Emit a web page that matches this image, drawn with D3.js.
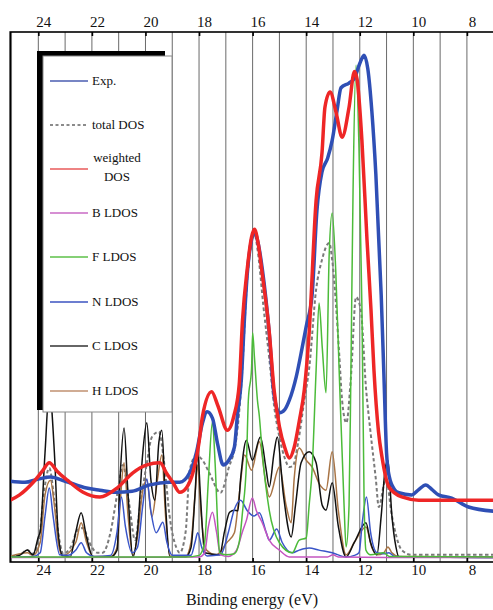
<!DOCTYPE html>
<html>
<head>
<meta charset="utf-8">
<script src="https://cdn.jsdelivr.net/npm/d3@7"></script>
<style>
body { margin: 0; background: #fff; }
svg text { font-family: "Liberation Serif", "DejaVu Serif", "Times New Roman", serif; fill: #111; }
</style>
</head>
<body>
<svg id="chart"></svg>
<script>
// binding energy (eV), intensity (arb. units, 0 = baseline)
let expData = [[25.05,14.6],[24.5,14.4],[24.0,15.0],[23.55,15.4],[23.0,14.6],[22.2,13.3],[21.7,12.9],[21.1,12.5],[20.5,12.7],[19.84,13.9],[19.1,14.4],[18.72,14.4],[18.35,16.2],[18.1,20],[17.87,25.7],[17.7,27.8],[17.5,26.6],[17.3,21.5],[17.1,17.7],[16.9,18.5],[16.68,21.1],[16.57,27],[16.42,34],[16.3,46],[16.2,54],[16.04,60.5],[15.93,62],[15.8,60],[15.64,55],[15.38,42.8],[15.2,31],[15.0,27.6],[14.8,28.2],[14.63,30],[14.37,34.5],[14.15,40],[14.0,44],[13.78,50],[13.6,66],[13.41,73.4],[13.2,76],[13.03,79.4],[12.85,85],[12.7,89.4],[12.4,90.3],[12.2,91.2],[12.0,94],[11.84,95.6],[11.7,93],[11.55,85],[11.4,73],[11.2,50],[11.1,35],[11.0,20],[10.9,15.5],[10.7,13],[10.54,12.4],[10.06,12.0],[9.8,13],[9.54,13.9],[9.3,13],[9.06,12.0],[8.57,11.4],[7.94,9.7],[7.0,8.9]]

let weightedData = [[25.05,11.0],[24.7,12.0],[24.19,14.4],[23.85,16.5],[23.59,18.1],[23.3,16.5],[22.92,14.8],[22.33,12.5],[21.7,11.6],[21.06,13.3],[20.47,16.2],[19.95,17.7],[19.46,18.1],[19.2,16],[18.98,14.4],[18.72,12.5],[18.45,13.5],[18.24,16],[18.0,22],[17.87,27],[17.53,31.6],[17.3,29],[16.94,24.3],[16.7,27],[16.5,33],[16.38,45],[16.2,55],[16.04,61],[15.93,62.5],[15.8,60],[15.64,54],[15.38,43],[15.2,32],[15.0,25],[14.8,21],[14.63,19],[14.45,21],[14.26,26],[14.07,32],[13.89,42.8],[13.63,68],[13.41,77],[13.3,85.7],[13.11,88.6],[12.88,84.6],[12.66,80],[12.4,85.7],[12.2,92.5],[12.1,91],[11.92,79.4],[11.73,60.5],[11.58,47.1],[11.47,35.7],[11.3,24],[11.17,19.2],[10.91,13.5],[10.43,11.6],[9.8,11.0],[7.0,11.0]]

let totalData = [[25.05,0.4],[24.7,0.6],[24.41,1.5],[24.2,0.8],[23.96,4],[23.8,12],[23.59,17.1],[23.4,11],[23.2,3],[23.07,0.8],[22.8,2],[22.5,5.5],[22.33,5.7],[22.1,3],[21.8,1],[21.6,1],[21.3,5],[21.06,12],[20.84,17.7],[20.6,10],[20.39,3.4],[20.2,10],[19.95,18],[19.76,23],[19.5,24],[19.3,18],[19.1,8],[18.85,2],[18.72,1],[18.5,5],[18.35,16.7],[18.1,19.5],[17.87,18.6],[17.6,16],[17.2,12.4],[16.9,17],[16.6,23],[16.42,33],[16.2,53],[16.04,60],[15.93,61.5],[15.8,58],[15.6,48],[15.38,38],[15.2,29],[15.0,23],[14.8,19],[14.63,17.3],[14.5,17.5],[14.3,22],[14.07,30],[13.89,36],[13.63,51],[13.41,56.7],[13.14,59.9],[13.03,56.7],[12.77,39],[12.66,30],[12.5,25.7],[12.33,34.4],[12.14,49.6],[11.96,47.1],[11.77,32.5],[11.6,24],[11.4,15],[11.29,9.7],[11.1,14],[11.03,15.4],[10.8,8],[10.43,1.5],[10.06,0.6],[7.0,0.6]]

let bData = [[25.05,0.1],[18.0,0.2],[17.79,1],[17.65,6],[17.5,8.7],[17.35,5],[17.2,0.6],[16.9,0.3],[16.6,1.5],[16.38,5],[16.23,7.2],[16.01,11.4],[15.86,9],[15.64,6.7],[15.38,3.4],[15.0,1.5],[14.63,0.2],[13.2,0.2],[13.0,0.6],[12.8,0.2],[10.5,0.1],[7.0,0.1]]

let fData = [[25.05,0.2],[18.5,0.2],[18.0,0.5],[17.79,3],[17.65,15],[17.5,25.9],[17.4,18],[17.3,6],[17.23,1.0],[17.0,0.6],[16.68,0.8],[16.5,3],[16.38,8.6],[16.23,18.1],[16.16,30],[16.04,36],[16.0,42.8],[15.93,38],[15.82,30],[15.75,27],[15.64,20],[15.38,9.1],[15.0,2.9],[14.52,1.0],[14.26,3.4],[14.0,3.8],[13.89,10],[13.78,16.7],[13.63,35.7],[13.52,48.5],[13.4,40],[13.26,31.4],[13.14,58],[13.03,65.6],[12.9,55],[12.77,35.7],[12.59,10.5],[12.51,2.1],[12.4,10],[12.33,35.7],[12.25,70],[12.14,93.7],[12.03,78.1],[11.92,47.7],[11.84,11.6],[11.77,1.5],[11.6,0.6],[11.1,1.0],[10.9,0.3],[7.0,0.2]]

let nData = [[25.05,0.2],[24.2,0.3],[23.93,1],[23.75,8],[23.59,13.3],[23.45,8],[23.2,0.6],[22.9,0.5],[22.6,1.5],[22.4,2.9],[22.2,1],[21.9,0.3],[21.3,0.5],[21.06,5],[20.9,11.6],[20.75,6],[20.5,1],[20.3,2],[20.1,10],[19.95,15],[19.8,9],[19.6,4.8],[19.35,6.8],[19.2,3],[19.0,0.5],[18.3,0.5],[18.15,3],[18.05,4.8],[17.9,2],[17.7,0.4],[17.2,0.6],[16.9,5],[16.7,9],[16.45,11],[16.2,9],[15.95,8],[15.75,8.6],[15.5,5],[15.38,3.4],[15.1,5.5],[14.9,3],[14.52,1.0],[14.26,1.5],[13.89,1.9],[13.52,1.5],[13.03,1.0],[12.51,0.2],[12.2,0.5],[12.03,1.0],[11.9,7],[11.75,11.6],[11.6,5],[11.36,1.0],[11.1,0.8],[10.91,1.0],[10.7,0.3],[7.0,0.1]]

let cData = [[25.05,0.2],[24.7,0.5],[24.41,1.5],[24.2,0.6],[24.0,4],[23.93,5],[23.75,20],[23.59,32],[23.4,20],[23.26,4.8],[23.1,0.5],[22.81,0.2],[22.6,5],[22.4,8.6],[22.2,4],[21.96,0.2],[21.3,0.2],[21.06,1.5],[20.95,15],[20.8,24.7],[20.65,12],[20.47,0.2],[20.3,5],[20.1,20],[19.95,25.7],[19.8,15],[19.65,11],[19.5,22],[19.39,24.3],[19.25,10],[19.09,0.2],[18.5,0.2],[18.3,2],[18.15,12],[18.05,20.2],[17.95,12],[17.79,1.0],[17.23,0.6],[17.05,5],[16.86,8.7],[16.68,9.1],[16.55,9],[16.45,15],[16.23,22.4],[16.01,18.6],[15.71,23],[15.5,17],[15.38,13.5],[15.2,20],[15.08,23],[14.85,12],[14.56,4],[14.4,10],[14.19,18.1],[13.89,20.2],[13.63,18.1],[13.4,10],[13.26,9.1],[13.03,14.3],[12.8,6],[12.51,0.2],[12.2,3],[11.77,6.7],[11.6,3],[11.36,0.6],[11.2,8],[11.05,17],[10.95,18.6],[10.8,8],[10.65,2.1],[10.54,0.2],[7.0,0.1]]

let hData = [[25.05,0.3],[24.41,1.0],[24.2,0.5],[23.93,3],[23.75,12],[23.55,14.8],[23.4,10],[23.26,3],[23.1,0.4],[22.6,3],[22.4,6.7],[22.2,3],[21.96,0.3],[21.3,0.3],[21.06,2],[20.95,10],[20.8,18.1],[20.65,8],[20.47,0.5],[20.3,4],[20.1,13],[19.95,14.8],[19.76,7.8],[19.55,15],[19.39,19.6],[19.25,8],[19.09,0.4],[18.5,0.3],[18.3,3],[18.15,12],[18.05,17.7],[17.95,10],[17.72,1.5],[17.35,0.6],[16.97,2.9],[16.68,4.8],[16.5,12],[16.3,19.6],[16.04,16.7],[15.75,22.1],[15.5,14],[15.38,11.6],[15.0,17.3],[14.75,10],[14.56,6.7],[14.45,15],[14.26,20.9],[14.0,18.6],[13.78,17.3],[13.5,14],[13.26,12.9],[13.03,20.2],[12.8,9],[12.51,0.6],[12.2,3],[11.77,5.9],[11.55,2],[11.36,0.6],[11.1,1.0],[10.95,2.1],[10.8,1],[10.54,0.3],[7.0,0.2]]

let tickLabels = [24, 22, 20, 18, 16, 14, 12, 10, 8]
let gridValues = d3.range(25, 6.5, -1)
let legendLabels = ["Exp.", "total DOS", "weighted|DOS", "B LDOS", "F LDOS", "N LDOS", "C LDOS", "H LDOS"]

let width = 493
let height = 610
let plotLeft = 10.2, plotRight = 493.7, plotTop = 32, plotBottom = 562
let serif = '"Liberation Serif", "DejaVu Serif", serif'

let svg = d3.select('#chart').attr('width', width).attr('height', height)

let xScale = d3.scaleLinear().domain([25.05, 7.0]).range([plotLeft, plotRight])
let yScale = d3.scaleLinear().domain([0, 100]).range([558, plotTop])

// style of each curve, drawn in this order (last on top)
let series = [
    {data: totalData, color: '#7a7a7a', w: 2, dash: '3.5,2.5'},
    {data: hData, color: '#a87445', w: 1.5},
    {data: cData, color: '#111', w: 1.5},
    {data: nData, color: '#3a55c8', w: 1.5},
    {data: bData, color: '#c455c0', w: 1.5},
    {data: fData, color: '#4cbb3a', w: 1.5},
    {data: expData, color: '#2f4fb5', w: 3.5},
    {data: weightedData, color: '#ee2626', w: 3.5}
]
let legendStyle = [
    {color: '#4a5cb0', w: 1.3},
    {color: '#666', w: 1.3, dash: '3,2.5'},
    {color: '#e85a5a', w: 1.6},
    {color: '#c86ac4', w: 1.3},
    {color: '#5cc048', w: 1.3},
    {color: '#3b53c0', w: 1.3},
    {color: '#333', w: 1.3},
    {color: '#c09070', w: 1.3}
]

svg.append('clipPath').attr('id', 'plot')
    .append('rect').attr('x', plotLeft).attr('y', plotTop).attr('width', plotRight - plotLeft).attr('height', plotBottom - plotTop)

// vertical grid, one line per eV
svg.append('g').selectAll('line').data(gridValues).join('line')
    .attr('x1', d => xScale(d)).attr('x2', d => xScale(d))
    .attr('y1', plotTop).attr('y2', plotBottom)
    .attr('stroke', '#6a6a6a').attr('stroke-width', 1)

let line = d3.line()
    .x(d => xScale(d[0]))
    .y(d => yScale(d[1]))
    .curve(d3.curveMonotoneX)

svg.append('g').attr('clip-path', 'url(#plot)')
    .selectAll('path').data(series).join('path')
    .attr('d', d => line(d.data))
    .attr('fill', 'none')
    .attr('stroke', d => d.color)
    .attr('stroke-width', d => d.w)
    .attr('stroke-dasharray', d => d.dash || null)
    .attr('stroke-linejoin', 'round')

// legend with its black offset shadow
let lg = svg.append('g')
lg.append('rect').attr('x', 37).attr('y', 51).attr('width', 128).attr('height', 359).attr('fill', '#000')
lg.append('rect').attr('x', 43).attr('y', 56).attr('width', 129).attr('height', 356)
    .attr('fill', '#fff').attr('stroke', '#8a8a8a').attr('stroke-width', 1)

let rowY = [81, 125, 169, 213, 257, 302, 346, 391]
legendLabels.forEach((lab, i) => {
    let st = legendStyle[i]
    lg.append('line').attr('x1', 50).attr('x2', 88).attr('y1', rowY[i]).attr('y2', rowY[i])
        .attr('stroke', st.color).attr('stroke-width', st.w)
        .attr('stroke-dasharray', st.dash || null)
    let parts = lab.split('|')
    if (parts.length == 1) {
        lg.append('text').attr('x', 92).attr('y', rowY[i] + 4).attr('font-size', 13)
            .style('font-family', serif).text(lab)
    } else {
        lg.append('text').attr('x', 117).attr('y', rowY[i] - 7).attr('text-anchor', 'middle').attr('font-size', 13)
            .style('font-family', serif).text(parts[0])
        lg.append('text').attr('x', 117).attr('y', rowY[i] + 12).attr('text-anchor', 'middle').attr('font-size', 13)
            .style('font-family', serif).text(parts[1])
    }
})

// frame
svg.append('rect').attr('x', plotLeft).attr('y', plotTop).attr('width', plotRight - plotLeft + 5).attr('height', plotBottom - plotTop)
    .attr('fill', 'none').attr('stroke', '#000').attr('stroke-width', 1.6)

// axes top and bottom
let topAxis = d3.axisTop(xScale).tickValues(tickLabels).tickSize(-4).tickPadding(5)
let bottomAxis = d3.axisBottom(xScale).tickValues(tickLabels).tickSize(-4).tickPadding(2)

let styleAxis = g => {
    g.select('.domain').remove()
    g.attr('font-family', null)
    g.selectAll('.tick line').attr('stroke', '#000').attr('stroke-width', 1.6)
    g.selectAll('.tick text').attr('font-size', 15).attr('dx', 5)
        .style('font-family', serif).attr('fill', '#111')
}
svg.append('g').attr('transform', 'translate(0,' + plotTop + ')').call(topAxis).call(styleAxis)
svg.append('g').attr('transform', 'translate(0,' + plotBottom + ')').call(bottomAxis).call(styleAxis)

svg.append('text').attr('x', 252).attr('y', 605).attr('text-anchor', 'middle')
    .attr('font-size', 16).style('font-family', serif).text('Binding energy (eV)')
</script>
</body>
</html>
